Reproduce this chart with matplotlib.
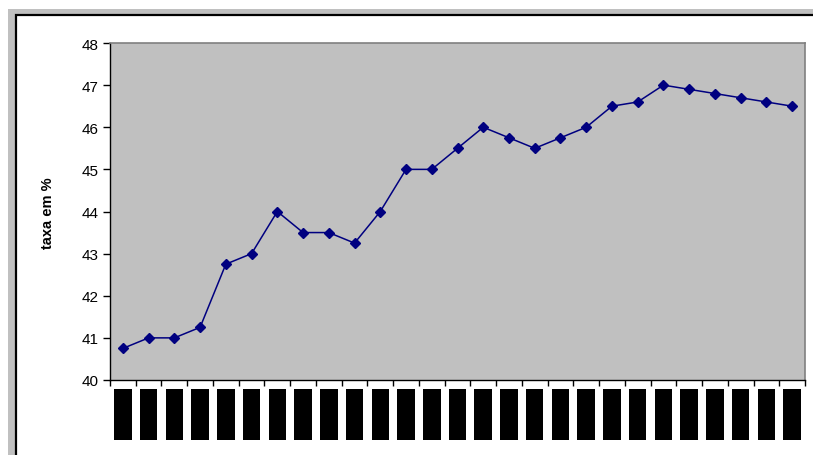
import matplotlib.pyplot as plt
from matplotlib.patches import Rectangle
from matplotlib.ticker import MultipleLocator

plt.rcParams['font.family'] = ['Liberation Sans', 'DejaVu Sans']

# taxa em %
taxa = [40.75, 41.0, 41.0, 41.25, 42.75, 43.0, 44.0, 43.5, 43.5, 43.25,
        44.0, 45.0, 45.0, 45.5, 46.0, 45.75, 45.5, 45.75, 46.0, 46.5,
        46.6, 47.0, 46.9, 46.8, 46.7, 46.6, 46.5]

# rótulos do eixo x (ocultos por tarjas pretas no original)
rotulos = ["1T 2000", "2T 2000", "3T 2000", "4T 2000", "1T 2001", "2T 2001",
           "3T 2001", "4T 2001", "1T 2002", "2T 2002", "3T 2002", "4T 2002",
           "1T 2003", "2T 2003", "3T 2003", "4T 2003", "1T 2004", "2T 2004",
           "3T 2004", "4T 2004", "1T 2005", "2T 2005", "3T 2005", "4T 2005",
           "1T 2006", "2T 2006", "3T 2006"]

W, H = 813, 456
fig = plt.figure(figsize=(W / 100, H / 100), dpi=100)

# moldura cinza e área do gráfico (estilo Excel)
fig.patches.append(Rectangle((8 / W, 0), 1, 1 - 10 / H, transform=fig.transFigure,
                             facecolor='#c0c0c0', edgecolor='none', zorder=-2))
fig.patches.append(Rectangle((16 / W, -0.1), 1, 1.1 - 16 / H, transform=fig.transFigure,
                             facecolor='white', edgecolor='black', linewidth=1.6, zorder=-1))

ax = fig.add_axes([110 / W, 75 / H, 695 / W, 337 / H])
ax.set_facecolor('#c0c0c0')

x = list(range(len(taxa)))
ax.plot(x, taxa, color='#000080', linewidth=1.1, marker='D', markersize=5.5,
        markerfacecolor='#000080', markeredgecolor='#000080')

ax.set_ylim(40, 48)
ax.set_xlim(-0.5, len(taxa) - 0.5)
ax.yaxis.set_major_locator(MultipleLocator(1))
ax.tick_params(axis='y', direction='out', length=5, width=1, labelsize=11, pad=3)

ax.set_xticks(x)
ax.set_xticklabels([])
ax.tick_params(axis='x', which='major', length=0)
ax.set_xticks([i - 0.5 for i in range(len(taxa) + 1)], minor=True)
ax.tick_params(axis='x', which='minor', direction='out', length=4, width=1)

for s in ['top', 'right']:
    ax.spines[s].set_color('#808080')
    ax.spines[s].set_linewidth(1.2)
for s in ['left', 'bottom']:
    ax.spines[s].set_color('black')
    ax.spines[s].set_linewidth(1)

fig.text(48 / W, 1 - 213 / H, 'taxa em %', rotation=90, ha='center', va='center',
         fontsize=10.5, fontweight='bold')

# rótulos do eixo x cobertos por tarjas pretas
for i, r in enumerate(rotulos):
    ax.annotate(r, xy=(i, 0), xycoords=('data', 'axes fraction'),
                xytext=(0, -8.5), textcoords='offset points',
                rotation=90, ha='center', va='top', fontsize=9, color='black',
                annotation_clip=False,
                bbox=dict(boxstyle='square,pad=0.22', facecolor='black', edgecolor='none'))

fig.savefig('out.png', dpi=100)
